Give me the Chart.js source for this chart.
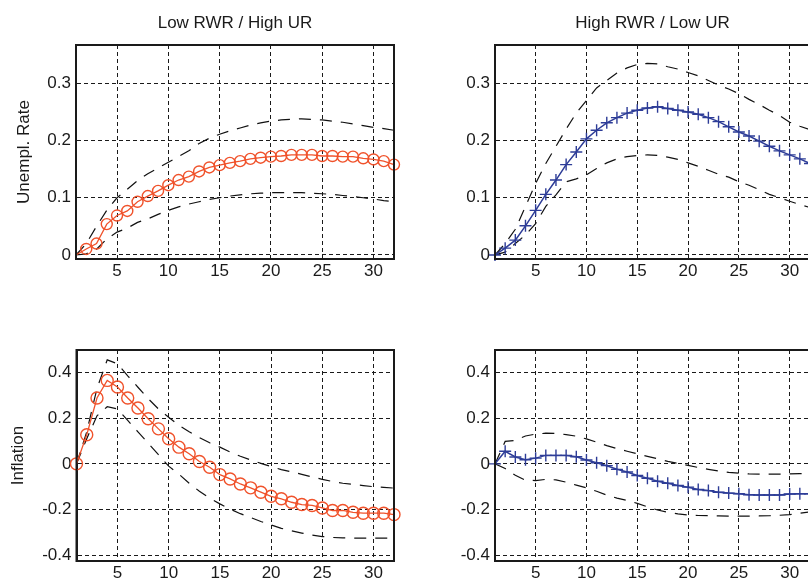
<!DOCTYPE html>
<html>
<head>
<meta charset="utf-8">
<script src="https://cdn.jsdelivr.net/npm/chart.js@4.4.1/dist/chart.umd.min.js"></script>
<style>
  html, body { margin: 0; padding: 0; background: #fff; width: 808px; height: 579px; overflow: hidden; }
  .panel { position: absolute; }
</style>
</head>
<body>
<canvas id="tl" class="panel" width="404" height="290" style="left:0;top:0"></canvas>
<canvas id="tr" class="panel" width="420" height="290" style="left:404px;top:0"></canvas>
<canvas id="bl" class="panel" width="404" height="289" style="left:0;top:290px"></canvas>
<canvas id="br" class="panel" width="420" height="289" style="left:404px;top:290px"></canvas>
<script>
// horizon (quarters)
const periods = [1,2,3,4,5,6,7,8,9,10,11,12,13,14,15,16,17,18,19,20,21,22,23,24,25,26,27,28,29,30,31,32];
const xTicks = [5, 10, 15, 20, 25, 30];

const urTicks = [0, 0.1, 0.2, 0.3];
const urTickLabels = ['0', '0.1', '0.2', '0.3'];
const infTicks = [-0.4, -0.2, 0, 0.2, 0.4];
const infTickLabels = ['-0.4', '-0.2', '0', '0.2', '0.4'];

const titles = ['Low RWR / High UR', 'High RWR / Low UR'];
const rowLabels = ['Unempl. Rate', 'Inflation'];

// Low RWR / High UR : unemployment rate
const urLow      = [0, 0.0105, 0.020, 0.054, 0.069, 0.077, 0.093, 0.103, 0.112, 0.122, 0.131, 0.137, 0.146, 0.153, 0.157, 0.161, 0.164, 0.168, 0.170, 0.172, 0.173, 0.175, 0.175, 0.175, 0.173, 0.173, 0.172, 0.172, 0.169, 0.167, 0.164, 0.158];
const urLowUp    = [0, 0.020, 0.050, 0.078, 0.100, 0.115, 0.130, 0.142, 0.152, 0.162, 0.172, 0.182, 0.195, 0.204, 0.211, 0.217, 0.222, 0.227, 0.231, 0.234, 0.236, 0.237, 0.238, 0.237, 0.236, 0.234, 0.232, 0.229, 0.226, 0.223, 0.221, 0.218];
const urLowDn    = [0, 0.002, 0.010, 0.028, 0.040, 0.047, 0.057, 0.063, 0.071, 0.078, 0.084, 0.089, 0.093, 0.097, 0.100, 0.103, 0.105, 0.107, 0.108, 0.109, 0.109, 0.109, 0.109, 0.108, 0.107, 0.106, 0.104, 0.102, 0.100, 0.098, 0.095, 0.093];

// High RWR / Low UR : unemployment rate
const urHigh     = [0, 0.012, 0.026, 0.051, 0.078, 0.106, 0.131, 0.158, 0.180, 0.203, 0.218, 0.231, 0.240, 0.248, 0.253, 0.257, 0.259, 0.256, 0.253, 0.250, 0.246, 0.240, 0.233, 0.224, 0.215, 0.208, 0.199, 0.190, 0.182, 0.175, 0.168, 0.160];
const urHighUp   = [0, 0.020, 0.045, 0.085, 0.125, 0.160, 0.190, 0.220, 0.248, 0.270, 0.292, 0.305, 0.318, 0.327, 0.333, 0.335, 0.334, 0.329, 0.325, 0.319, 0.313, 0.305, 0.297, 0.290, 0.282, 0.272, 0.263, 0.253, 0.244, 0.232, 0.225, 0.219];
const urHighDn   = [0, 0.005, 0.020, 0.035, 0.055, 0.085, 0.105, 0.128, 0.133, 0.140, 0.151, 0.161, 0.168, 0.172, 0.174, 0.175, 0.174, 0.171, 0.167, 0.161, 0.155, 0.148, 0.141, 0.136, 0.128, 0.122, 0.114, 0.106, 0.100, 0.094, 0.088, 0.083];

// Low RWR / High UR : inflation
const infLow     = [0, 0.127, 0.288, 0.365, 0.336, 0.288, 0.244, 0.197, 0.153, 0.110, 0.073, 0.044, 0.010, -0.015, -0.047, -0.066, -0.088, -0.105, -0.124, -0.142, -0.153, -0.168, -0.178, -0.182, -0.193, -0.204, -0.204, -0.212, -0.216, -0.216, -0.216, -0.222];
const infLowUp   = [0, 0.140, 0.330, 0.455, 0.438, 0.385, 0.335, 0.285, 0.240, 0.204, 0.168, 0.140, 0.115, 0.092, 0.073, 0.052, 0.033, 0.017, 0.002, -0.012, -0.025, -0.035, -0.046, -0.057, -0.068, -0.077, -0.085, -0.090, -0.095, -0.100, -0.103, -0.106];
const infLowDn   = [0, 0.110, 0.210, 0.250, 0.240, 0.190, 0.140, 0.090, 0.040, -0.010, -0.045, -0.085, -0.120, -0.150, -0.175, -0.198, -0.218, -0.235, -0.252, -0.267, -0.282, -0.293, -0.303, -0.312, -0.318, -0.322, -0.324, -0.325, -0.325, -0.325, -0.325, -0.325];

// High RWR / Low UR : inflation
const infHigh    = [0, 0.055, 0.030, 0.018, 0.025, 0.037, 0.037, 0.037, 0.031, 0.017, 0.005, -0.008, -0.024, -0.036, -0.051, -0.063, -0.076, -0.085, -0.095, -0.102, -0.112, -0.117, -0.124, -0.128, -0.131, -0.135, -0.136, -0.136, -0.136, -0.132, -0.131, -0.131];
const infHighUp  = [0, 0.098, 0.102, 0.122, 0.130, 0.134, 0.133, 0.128, 0.121, 0.109, 0.095, 0.080, 0.067, 0.055, 0.044, 0.033, 0.022, 0.011, 0.002, -0.007, -0.016, -0.024, -0.031, -0.037, -0.041, -0.044, -0.045, -0.045, -0.045, -0.044, -0.043, -0.042];
const infHighDn  = [0, -0.020, -0.050, -0.072, -0.073, -0.068, -0.070, -0.080, -0.093, -0.105, -0.120, -0.137, -0.150, -0.160, -0.173, -0.188, -0.202, -0.212, -0.219, -0.224, -0.226, -0.227, -0.228, -0.229, -0.229, -0.229, -0.228, -0.227, -0.225, -0.222, -0.216, -0.210];

const FONT = { family: '"Liberation Sans", Arial, Helvetica, sans-serif', size: 17 };
const INK = '#1a1a1a';
const RED = '#F0522B';
const BLUE = '#2D3C97';

// box around the plot area, like matlab "box on"
const frame = {
  id: 'frame',
  afterDraw(chart) {
    const { ctx, chartArea: a } = chart;
    ctx.save();
    ctx.strokeStyle = INK;
    ctx.lineWidth = 2;
    ctx.strokeRect(a.left, a.top, a.right - a.left, a.bottom - a.top);
    ctx.restore();
  }
};

const pts = vals => periods.map((p, i) => ({ x: p, y: vals[i] }));

function band(vals) {
  return {
    data: pts(vals), borderColor: '#111', borderWidth: 1.2, borderDash: [12, 9],
    pointRadius: 0, fill: false
  };
}

function panel(id, o) {
  const main = o.red
    ? { data: pts(o.mid), borderColor: RED, borderWidth: 1.3, pointStyle: 'circle',
        pointRadius: c => (o.hideFirst && c.dataIndex === 0) ? 0 : o.r,
        pointBorderWidth: 1.4, pointBorderColor: RED, pointBackgroundColor: 'rgba(0,0,0,0)', clip: false }
    : { data: pts(o.mid), borderColor: BLUE, borderWidth: 1.5, pointStyle: 'cross',
        pointRadius: 6, pointBorderWidth: 1.4, pointBorderColor: BLUE, clip: false };

  new Chart(document.getElementById(id), {
    type: 'line',
    data: { datasets: [main, band(o.up), band(o.dn)] },
    options: {
      responsive: false,
      animation: false,
      events: [],
      layout: { padding: { top: o.padTop, right: o.padRight, bottom: 0, left: 0 } },
      plugins: {
        legend: { display: false },
        tooltip: { enabled: false },
        title: {
          display: !!o.title, text: o.title, fullSize: false,
          color: INK, font: { ...FONT, weight: 'normal' },
          padding: { top: 13, bottom: 11.6 }
        }
      },
      scales: {
        x: {
          type: 'linear', min: 1, max: 32, bounds: 'data',
          afterBuildTicks: s => { s.ticks = xTicks.map(v => ({ value: v })); },
          afterFit: s => { s.height = o.xH; },
          ticks: { color: INK, font: FONT, padding: 2, maxRotation: 0, callback: v => String(v) },
          grid: { color: INK, lineWidth: 1, drawTicks: false },
          border: { display: true, color: INK, width: 2, dash: [4, 3] }
        },
        y: {
          type: 'linear', min: o.ymin, max: o.ymax, bounds: 'data',
          afterBuildTicks: s => { s.ticks = o.ticks.map(v => ({ value: v })); },
          afterFit: s => { s.width = o.yW; },
          ticks: { color: INK, font: FONT, padding: 5,
                   callback: v => o.tickLabels[o.ticks.indexOf(v)] ?? '' },
          grid: { color: INK, lineWidth: 1, drawTicks: false },
          border: { display: true, color: INK, width: 2, dash: [4, 3] },
          title: { display: !!o.ylabel, text: o.ylabel, color: INK, font: FONT,
                   padding: { top: o.yTitlePad, bottom: 0 } }
        }
      }
    },
    plugins: [frame]
  });
}

panel('tl', { red: true, hideFirst: true, r: 5.5, mid: urLow, up: urLowUp, dn: urLowDn,
  title: titles[0], ylabel: rowLabels[0], yTitlePad: 13.8,
  ymin: -0.007, ymax: 0.367, ticks: urTicks, tickLabels: urTickLabels,
  yW: 76, xH: 31, padTop: 0, padRight: 10 });

panel('tr', { red: false, mid: urHigh, up: urHighUp, dn: urHighDn,
  title: titles[1], ylabel: '',
  ymin: -0.007, ymax: 0.367, ticks: urTicks, tickLabels: urTickLabels,
  yW: 91, xH: 31, padTop: 0, padRight: 14 });

panel('bl', { red: true, r: 6, mid: infLow, up: infLowUp, dn: infLowDn,
  title: '', ylabel: rowLabels[1], yTitlePad: 7.7,
  ymin: -0.425, ymax: 0.498, ticks: infTicks, tickLabels: infTickLabels,
  yW: 76.5, xH: 18, padTop: 60, padRight: 10 });

panel('br', { red: false, mid: infHigh, up: infHighUp, dn: infHighDn,
  title: '', ylabel: '',
  ymin: -0.425, ymax: 0.498, ticks: infTicks, tickLabels: infTickLabels,
  yW: 91, xH: 18, padTop: 60, padRight: 14 });
</script>
</body>
</html>
